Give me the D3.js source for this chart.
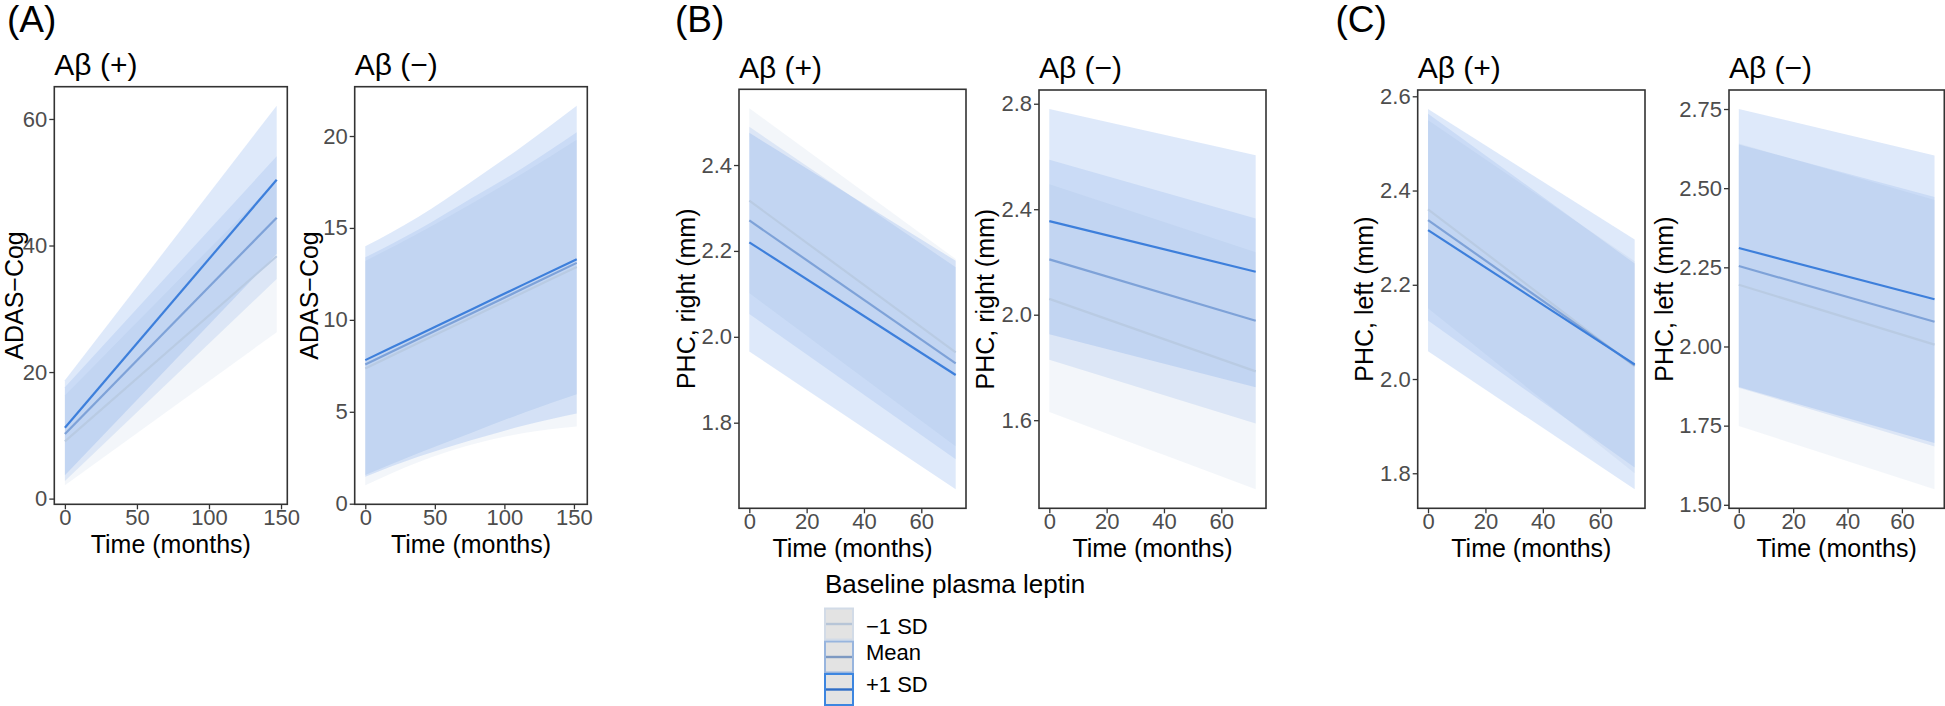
<!DOCTYPE html>
<html><head><meta charset="utf-8">
<script src="https://cdn.jsdelivr.net/npm/d3@7"></script>
<style>
body{margin:0;background:#fff;}
svg{display:block;font-family:"Liberation Sans",Arial,Helvetica,sans-serif;}
</style></head><body>
<svg id="chart" width="1945" height="706"></svg>
<script>
// ================= DATA =================
const groups = ["\u22121 SD", "Mean", "+1 SD"];

// (A) ADAS-Cog, Aβ(+)   rows: -1 SD, Mean, +1 SD
const aPosTime = [0, 147];
const aPosFit = [[9.05, 38.3], [10.2, 44.4], [11.2, 50.4]];
const aPosLo  = [[2.1, 26.3], [2.8, 34.7], [3.7, 38.7]];
const aPosHi  = [[16.3, 50.3], [17.6, 54.1], [18.7, 62.1]];
const aPosYTicks = [0, 20, 40, 60];

// (A) ADAS-Cog, Aβ(−)
const aNegTime = [0, 38, 76, 114, 152];
const aNegFit = [[7.36, 8.74, 10.12, 11.5, 12.88], [7.57, 8.96, 10.33, 11.72, 13.1], [7.81, 9.18, 10.55, 11.93, 13.3]];
const aNegLo  = [[1.0, 2.25, 3.2, 3.85, 4.2], [1.56, 2.75, 3.85, 4.95, 5.95], [1.47, 2.55, 3.45, 4.25, 4.9]];
const aNegHi  = [[13.2, 14.7, 16.3, 18.0, 19.8], [13.4, 14.9, 16.6, 18.3, 20.2], [14.0, 15.6, 17.5, 19.5, 21.65]];
const aNegYTicks = [0, 5, 10, 15, 20];
const aXTicks = [0, 50, 100, 150];

// (B) PHC right, Aβ(+)
const bPosTime = [0, 72];
const bPosFit = [[2.317, 1.964], [2.271, 1.938], [2.220, 1.911]];
const bPosLo  = [[2.102, 1.745], [2.053, 1.715], [1.966, 1.645]];
const bPosHi  = [[2.532, 2.181], [2.489, 2.162], [2.475, 2.177]];
const bPosYTicks = [1.8, 2.0, 2.2, 2.4];

// (B) PHC right, Aβ(−)
const bNegTime = [0, 72];
const bNegFit = [[2.060, 1.785], [2.210, 1.977], [2.355, 2.163]];
const bNegLo  = [[1.631, 1.338], [1.829, 1.587], [1.926, 1.725]];
const bNegHi  = [[2.495, 2.237], [2.588, 2.365], [2.780, 2.605]];
const bNegYTicks = [1.6, 2.0, 2.4, 2.8];

// (C) PHC left, Aβ(+)
const cPosTime = [0, 72];
const cPosFit = [[2.360, 2.027], [2.337, 2.029], [2.316, 2.031]];
const cPosLo  = [[2.150, 1.800], [2.124, 1.812], [2.059, 1.766]];
const cPosHi  = [[2.549, 2.250], [2.563, 2.245], [2.573, 2.296]];
const cPosYTicks = [1.8, 2.0, 2.2, 2.4, 2.6];

// (C) PHC left, Aβ(−)
const cNegTime = [0, 72];
const cNegFit = [[2.195, 2.006], [2.254, 2.078], [2.311, 2.149]];
const cNegLo  = [[1.749, 1.549], [1.870, 1.684], [1.872, 1.695]];
const cNegHi  = [[2.641, 2.463], [2.638, 2.472], [2.750, 2.603]];
const cNegYTicks = [1.50, 1.75, 2.00, 2.25, 2.50, 2.75];
const bcXTicks = [0, 20, 40, 60];

const panelTags = ["(A)", "(B)", "(C)"];
const xTitle = "Time (months)";
const legendTitle = "Baseline plasma leptin";

// ================= STYLE / LAYOUT =================
const FONT = '"Liberation Sans", Arial, Helvetica, sans-serif';
const ribbonFill = ["#c4d1e6", "#80a8e4", "#5b93e6"];
const ribbonOpacity = [0.2, 0.2, 0.2];
const lineColor = ["#b9cbe3", "#7ea2d8", "#3d7fdb"];
const keyBorder = ["#d2dbe7", "#98b5de", "#3d86e0"];
const keyLine = ["#b7c5d7", "#7d99c2", "#2f6dc6"];

const panels = [
  {time: aPosTime, fit: aPosFit, lo: aPosLo, hi: aPosHi, yTicks: aPosYTicks, xTicks: aXTicks, fmt: d3.format("d"),
   title: "A\u03b2 (+)", ylab: "ADAS\u2212Cog", L: 54.3, R: 287.3, T: 86.7, B: 504.3, titleY: 75, ylabX: 23},
  {time: aNegTime, fit: aNegFit, lo: aNegLo, hi: aNegHi, yTicks: aNegYTicks, xTicks: aXTicks, fmt: d3.format("d"),
   title: "A\u03b2 (\u2212)", ylab: "ADAS\u2212Cog", L: 354.7, R: 587.3, T: 86.7, B: 504.3, titleY: 75, ylabX: 317.5},
  {time: bPosTime, fit: bPosFit, lo: bPosLo, hi: bPosHi, yTicks: bPosYTicks, xTicks: bcXTicks, fmt: d3.format(".1f"),
   title: "A\u03b2 (+)", ylab: "PHC, right (mm)", L: 739, R: 966, T: 89.3, B: 508.3, titleY: 78.3, ylabX: 695},
  {time: bNegTime, fit: bNegFit, lo: bNegLo, hi: bNegHi, yTicks: bNegYTicks, xTicks: bcXTicks, fmt: d3.format(".1f"),
   title: "A\u03b2 (\u2212)", ylab: "PHC, right (mm)", L: 1039, R: 1266, T: 90, B: 508.3, titleY: 78.3, ylabX: 994},
  {time: cPosTime, fit: cPosFit, lo: cPosLo, hi: cPosHi, yTicks: cPosYTicks, xTicks: bcXTicks, fmt: d3.format(".1f"),
   title: "A\u03b2 (+)", ylab: "PHC, left (mm)", L: 1417.7, R: 1645, T: 90, B: 508.3, titleY: 77.5, ylabX: 1373},
  {time: cNegTime, fit: cNegFit, lo: cNegLo, hi: cNegHi, yTicks: cNegYTicks, xTicks: bcXTicks, fmt: d3.format(".2f"),
   title: "A\u03b2 (\u2212)", ylab: "PHC, left (mm)", L: 1729, R: 1944.3, T: 90, B: 508.3, titleY: 77.5, ylabX: 1673}
];
const tagPos = [[7, 31.7], [675, 31.7], [1335.5, 31.7]];

function expand(ext) {
  const r = ext[1] - ext[0];
  return [ext[0] - 0.05 * r, ext[1] + 0.05 * r];
}

const svg = d3.select("#chart");
svg.append("rect").attr("width", 1945).attr("height", 706).attr("fill", "#fff");

panels.forEach((p, pi) => {
  const x = d3.scaleLinear().domain(expand(d3.extent(p.time))).range([p.L, p.R]);
  const allY = [...p.lo.flat(), ...p.hi.flat(), ...p.fit.flat()];
  const y = d3.scaleLinear().domain(expand(d3.extent(allY))).range([p.B, p.T]);
  const g = svg.append("g");

  // ribbons
  groups.forEach((grp, i) => {
    const area = d3.area()
      .x((d, k) => x(p.time[k]))
      .y0((d, k) => y(p.lo[i][k]))
      .y1((d, k) => y(p.hi[i][k]))
      .curve(d3.curveMonotoneX);
    g.append("path").datum(p.time).attr("d", area)
      .attr("fill", ribbonFill[i]).attr("fill-opacity", ribbonOpacity[i]);
  });
  // lines
  groups.forEach((grp, i) => {
    const line = d3.line()
      .x((d, k) => x(p.time[k]))
      .y((d, k) => y(p.fit[i][k]))
      .curve(d3.curveMonotoneX);
    g.append("path").datum(p.time).attr("d", line)
      .attr("fill", "none").attr("stroke", lineColor[i]).attr("stroke-width", 2.2);
  });
  // border
  g.append("rect").attr("x", p.L).attr("y", p.T).attr("width", p.R - p.L).attr("height", p.B - p.T)
    .attr("fill", "none").attr("stroke", "#333").attr("stroke-width", 1.6);

  // axes
  const xa = svg.append("g").attr("transform", `translate(0,${p.B})`)
    .call(d3.axisBottom(x).tickValues(p.xTicks).tickSize(5).tickPadding(0.5).tickFormat(d3.format("d")));
  const ya = svg.append("g").attr("transform", `translate(${p.L},0)`)
    .call(d3.axisLeft(y).tickValues(p.yTicks).tickSize(5).tickPadding(2).tickFormat(p.fmt));
  [xa, ya].forEach(a => {
    a.select(".domain").remove();
    a.attr("font-family", FONT).attr("font-size", 22);
    a.selectAll("line").attr("stroke", "#333").attr("stroke-width", 1.3);
    a.selectAll("text").attr("fill", "#4d4d4d");
  });

  // titles
  svg.append("text").attr("x", p.L).attr("y", p.titleY).text(p.title)
    .attr("font-size", 30).attr("fill", "#000");
  svg.append("text").attr("x", (p.L + p.R) / 2).attr("y", p.B + 48.5).attr("text-anchor", "middle")
    .text(xTitle).attr("font-size", 25).attr("fill", "#000");
  svg.append("text")
    .attr("transform", `translate(${p.ylabX},${(p.T + p.B) / 2}) rotate(-90)`)
    .attr("text-anchor", "middle").text(p.ylab).attr("font-size", 25).attr("fill", "#000");
});

// panel tags
panelTags.forEach((t, i) => {
  svg.append("text").attr("x", tagPos[i][0]).attr("y", tagPos[i][1]).text(t)
    .attr("font-size", 37).attr("fill", "#000");
});

// legend
const lg = svg.append("g");
lg.append("text").attr("x", 825).attr("y", 593).text(legendTitle).attr("font-size", 26).attr("fill", "#000");
const keyX = 825, keyW = 28, keyH = 31, keyTops = [608.5, 641.5, 674];
const labelY = [634, 660, 691.5];
groups.forEach((grp, i) => {
  lg.append("rect").attr("x", keyX).attr("y", keyTops[i]).attr("width", keyW).attr("height", keyH)
    .attr("fill", "#e3e3e3").attr("stroke", keyBorder[i]).attr("stroke-width", 2);
  lg.append("line").attr("x1", keyX + 1).attr("x2", keyX + keyW - 1)
    .attr("y1", keyTops[i] + keyH / 2).attr("y2", keyTops[i] + keyH / 2)
    .attr("stroke", keyLine[i]).attr("stroke-width", 2.4);
  lg.append("text").attr("x", 866).attr("y", labelY[i]).text(grp).attr("font-size", 22).attr("fill", "#000");
});
</script>
</body></html>
